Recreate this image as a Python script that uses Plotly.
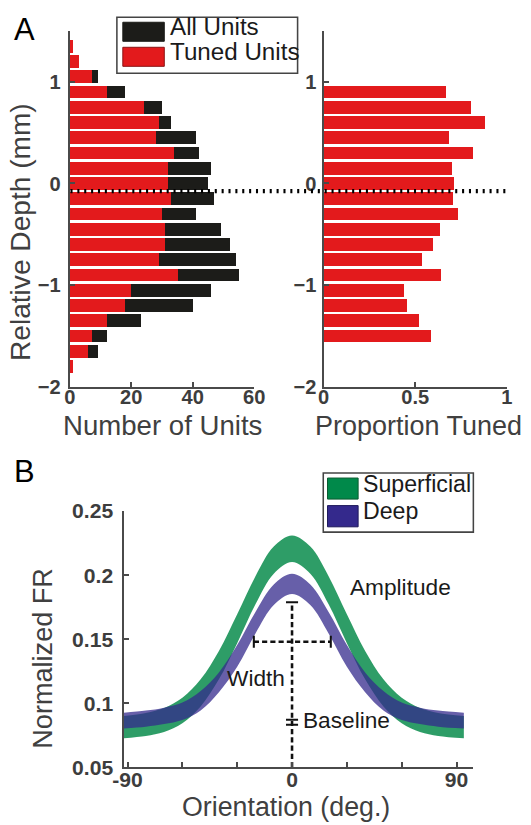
import plotly.graph_objects as go

# ---------------- data ----------------
# Panel A: depth bins (mm, bin centres) and unit counts
depth_centers = [1.35, 1.2, 1.05, 0.9, 0.75, 0.6, 0.45, 0.3, 0.15, 0.0, -0.15,
                 -0.3, -0.45, -0.6, -0.75, -0.9, -1.05, -1.2, -1.35, -1.5, -1.65, -1.8]
all_units = [1, 3, 9, 18, 30, 33, 41, 42, 46, 45, 47,
             41, 49, 52, 54, 55, 46, 40, 23, 12, 9, 1]
tuned_units = [1, 3, 7, 12, 24, 29, 28, 34, 32, 32, 33,
               30, 31, 31, 29, 35, 20, 18, 12, 7, 6, 1]

prop_depths = [0.9, 0.75, 0.6, 0.45, 0.3, 0.15, 0.0, -0.15, -0.3, -0.45,
               -0.6, -0.75, -0.9, -1.05, -1.2, -1.35, -1.5]
prop_tuned = [0.667, 0.80, 0.88, 0.683, 0.81, 0.697, 0.711, 0.702, 0.732, 0.633,
              0.596, 0.537, 0.636, 0.435, 0.45, 0.52, 0.583]

boundary_depth = -0.075  # dotted layer boundary

legend_a_labels = ["All Units", "Tuned Units"]

# Panel B: tuning curve bands (normalized FR) vs orientation (deg)
orientation = [-92, -80, -70, -60, -50, -40, -30, -20, -10, 0,
               10, 20, 30, 40, 50, 60, 70, 80, 94]
sup_upper = [0.0900, 0.0924, 0.0962, 0.1042, 0.1186, 0.1408, 0.1694, 0.1992, 0.2223, 0.2310,
             0.2223, 0.1992, 0.1694, 0.1408, 0.1186, 0.1042, 0.0962, 0.0924, 0.0900]
sup_lower = [0.0727, 0.0744, 0.0775, 0.0843, 0.0975, 0.1186, 0.1469, 0.1772, 0.2011, 0.2102,
             0.2011, 0.1772, 0.1469, 0.1186, 0.0975, 0.0843, 0.0775, 0.0744, 0.0727]
deep_upper = [0.0926, 0.0942, 0.0965, 0.1005, 0.1095, 0.1240, 0.1454, 0.1713, 0.1927, 0.2010,
              0.1927, 0.1713, 0.1454, 0.1240, 0.1095, 0.1005, 0.0965, 0.0942, 0.0926]
deep_lower = [0.0803, 0.0817, 0.0838, 0.0869, 0.0943, 0.1085, 0.1284, 0.1545, 0.1766, 0.1853,
              0.1766, 0.1545, 0.1284, 0.1085, 0.0943, 0.0869, 0.0838, 0.0817, 0.0803]
legend_b_labels = ["Superficial", "Deep"]

# annotation markers (data coords of panel B)
amp_top = 0.1788
baseline_marks = [0.0832, 0.0871]
width_level = 0.148
width_ends = [-20.9, 21.2]

x_ticks_a = [0, 20, 40, 60]
y_ticks_a = [-2, -1, 0, 1]
x_ticks_p = [0, 0.5, 1]
x_labels_p = ["0", "0.5", "1"]
x_ticks_b = [-90, -60, -30, 0, 30, 60, 90]
x_labels_b = ["-90", "", "", "0", "", "", "90"]
y_ticks_b = [0.05, 0.1, 0.15, 0.2, 0.25]
y_labels_b = ["0.05", "0.1", "0.15", "0.2", "0.25"]

# ---------------- style / geometry ----------------
# The captured page keeps an 8px body margin and is scaled by 531/547 in the
# picture, so target picture pixels are converted to figure pixels here.
S = 531 / 547
M = 8
W, H = 531, 834
FONT = "Liberation Sans"
RED = "#e31a1c"
BLACK = "#1c1c19"
GREEN = "rgba(0,136,69,0.82)"
BLUE = "rgba(52,41,140,0.75)"
GREEN_SOLID = "#00894a"
BLUE_SOLID = "#34298c"
AXIS = "#4a4a4a"
TICKTXT = "#3d3d3d"
TXT = "#1a1a1a"
TITLE = "#404040"


def px(x):
    return (x / S - M) / W


def py(y):
    return 1 - (y / S - M) / H


def sz(v):
    return v / S


fig = go.Figure()

# Panel A left
fig.add_trace(go.Bar(y=depth_centers, x=all_units, orientation="h", width=0.125,
                     marker=dict(color=BLACK, line_width=0), xaxis="x", yaxis="y",
                     showlegend=False, hoverinfo="skip"))
fig.add_trace(go.Bar(y=depth_centers, x=tuned_units, orientation="h", width=0.125,
                     marker=dict(color=RED, line_width=0), xaxis="x", yaxis="y",
                     showlegend=False, hoverinfo="skip"))
# Panel A right
fig.add_trace(go.Bar(y=prop_depths, x=prop_tuned, orientation="h", width=0.125,
                     marker=dict(color=RED, line_width=0), xaxis="x2", yaxis="y2",
                     showlegend=False, hoverinfo="skip"))

# Panel B bands
for up, lo, col in [(sup_upper, sup_lower, GREEN), (deep_upper, deep_lower, BLUE)]:
    fig.add_trace(go.Scatter(x=orientation, y=up, mode="lines", line=dict(width=0, shape="spline"),
                             xaxis="x3", yaxis="y3", showlegend=False, hoverinfo="skip"))
    fig.add_trace(go.Scatter(x=orientation, y=lo, mode="lines", line=dict(width=0, shape="spline"),
                             fill="tonexty", fillcolor=col,
                             xaxis="x3", yaxis="y3", showlegend=False, hoverinfo="skip"))

# Panel B markers
dash_line = dict(color="#111111", width=sz(2.5), dash="%.2fpx,%.2fpx" % (sz(5), sz(3)))
solid_line = dict(color="#111111", width=sz(2))
fig.add_trace(go.Scatter(x=[0, 0], y=[0.05, amp_top], mode="lines", line=dash_line,
                         xaxis="x3", yaxis="y3", showlegend=False, hoverinfo="skip"))
fig.add_trace(go.Scatter(x=width_ends, y=[width_level, width_level], mode="lines", line=dash_line,
                         xaxis="x3", yaxis="y3", showlegend=False, hoverinfo="skip"))
cap_h = 3.3
cap_v = 0.0047
fig.add_trace(go.Scatter(x=[-cap_h, cap_h], y=[amp_top, amp_top], mode="lines", line=solid_line,
                         xaxis="x3", yaxis="y3", showlegend=False, hoverinfo="skip"))
for b in baseline_marks:
    fig.add_trace(go.Scatter(x=[-cap_h, cap_h], y=[b, b], mode="lines", line=solid_line,
                             xaxis="x3", yaxis="y3", showlegend=False, hoverinfo="skip"))
for xe in width_ends:
    fig.add_trace(go.Scatter(x=[xe, xe], y=[width_level - cap_v, width_level + cap_v], mode="lines",
                             line=solid_line, xaxis="x3", yaxis="y3", showlegend=False, hoverinfo="skip"))

tickfont_a = dict(family=FONT, size=sz(19.5), color=TICKTXT, weight="bold")
tickfont_b = dict(family=FONT, size=sz(20.5), color=TICKTXT, weight="bold")
common = dict(showline=True, linecolor=AXIS, linewidth=sz(2.2), ticks="inside", ticklen=sz(5),
              tickwidth=sz(2), tickcolor=AXIS, showgrid=False, zeroline=False, fixedrange=True)

yA = [py(382), py(26.7)]
fig.update_layout(
    width=W, height=H, margin=dict(l=0, r=0, t=0, b=0),
    paper_bgcolor="white", plot_bgcolor="rgba(0,0,0,0)",
    barmode="overlay", bargap=0,
    xaxis=dict(domain=[px(67.3), px(254)], range=[0, 60], anchor="y",
               tickvals=x_ticks_a, tickfont=tickfont_a, ticklabelstandoff=-9, **common),
    yaxis=dict(domain=yA, range=[-2, 1.5], anchor="x",
               tickvals=y_ticks_a, tickfont=tickfont_a, ticklabelstandoff=3, **common),
    xaxis2=dict(domain=[px(324.3), px(510)], range=[0, 1], anchor="y2",
                tickvals=x_ticks_p, ticktext=x_labels_p, tickfont=tickfont_a,
                ticklabelstandoff=-9, **common),
    yaxis2=dict(domain=yA, range=[-2, 1.5], anchor="x2",
                tickvals=y_ticks_a, tickfont=tickfont_a, ticklabelstandoff=1, **common),
    xaxis3=dict(domain=[px(121.7), px(476)], range=[-92.2, 99.2], anchor="y3",
                tickvals=x_ticks_b, ticktext=x_labels_b, tickfont=tickfont_b,
                ticklabelstandoff=-8, **common),
    yaxis3=dict(domain=[py(761.7), py(506)], range=[0.05, 0.25], anchor="x3",
                tickvals=y_ticks_b, ticktext=y_labels_b, tickfont=tickfont_b,
                ticklabelstandoff=4, **common),
)

# dotted boundary across panel A
fig.add_shape(type="line", xref="paper", yref="y", x0=px(68), x1=px(512),
              y0=boundary_depth, y1=boundary_depth,
              line=dict(color="black", width=sz(4), dash="%.2fpx,%.2fpx" % (sz(2), sz(4.67))),
              layer="above")

shapes = []
# Legend A
shapes.append(dict(type="rect", xref="paper", yref="paper", x0=px(115), x1=px(298), y0=py(69), y1=py(13),
                   line=dict(color="#444444", width=sz(1.5)), fillcolor="white", layer="above"))
shapes.append(dict(type="rect", xref="paper", yref="paper", x0=px(121), x1=px(163), y0=py(37), y1=py(18),
                   line=dict(color=BLACK, width=1), fillcolor=BLACK, layer="above"))
shapes.append(dict(type="rect", xref="paper", yref="paper", x0=px(121), x1=px(163), y0=py(62), y1=py(43),
                   line=dict(color="#8a1414", width=1), fillcolor=RED, layer="above"))
# Legend B
shapes.append(dict(type="rect", xref="paper", yref="paper", x0=px(324), x1=px(476), y0=py(527), y1=py(468),
                   line=dict(color="#444444", width=sz(1.5)), fillcolor="white", layer="above"))
shapes.append(dict(type="rect", xref="paper", yref="paper", x0=px(328.3), x1=px(359.3), y0=py(494), y1=py(473),
                   line=dict(color="#0b5a30", width=1), fillcolor=GREEN_SOLID, layer="above"))
shapes.append(dict(type="rect", xref="paper", yref="paper", x0=px(328.3), x1=px(359.3), y0=py(521.7), y1=py(500.5),
                   line=dict(color="#1f1a5c", width=1), fillcolor=BLUE_SOLID, layer="above"))
for s in shapes:
    fig.add_shape(**s)

ann = []


def text(t, x, y, size, color=TXT, xanchor="center", yanchor="middle", angle=0, xref="paper", yref="paper"):
    f = sz(size)
    corr = 0.2 * f
    ann.append(dict(text=t, x=x, y=y, xref=xref, yref=yref, showarrow=False,
                    xanchor=xanchor, yanchor=yanchor, textangle=angle,
                    xshift=(-corr if angle else 0), yshift=(0 if angle else corr),
                    font=dict(family=FONT, size=f, color=color)))


text("A", px(21.7), py(31), 30, color="black")
text("B", px(21), py(473), 30, color="black")
text(legend_a_labels[0], px(167), py(27.5), 23.5, xanchor="left")
text(legend_a_labels[1], px(167), py(52.5), 23.5, xanchor="left")
text(legend_b_labels[0], px(362), py(483.5), 22.5, xanchor="left")
text(legend_b_labels[1], px(362), py(511), 22.5, xanchor="left")
text("Number of Units", px(161.5), py(426.5), 26.8, color=TITLE)
text("Proportion Tuned", px(420), py(426.5), 26.2, color=TITLE)
text("Relative Depth (mm)", px(23), py(227), 27.3, color=TITLE, angle=-90)
text("Orientation (deg.)", px(286), py(806.5), 26, color=TITLE)
text("Normalized FR", px(45.5), py(652.5), 26.3, color=TITLE, angle=-90)
text("Amplitude", 30.8, 0.1868, 22, xanchor="left", xref="x3", yref="y3")
text("Width", -2.5, 0.1165, 22, xanchor="right", xref="x3", yref="y3")
text("Baseline", 4.7, 0.0832, 22, xanchor="left", xref="x3", yref="y3")

fig.update_layout(annotations=ann)
fig.write_html("out.html")
